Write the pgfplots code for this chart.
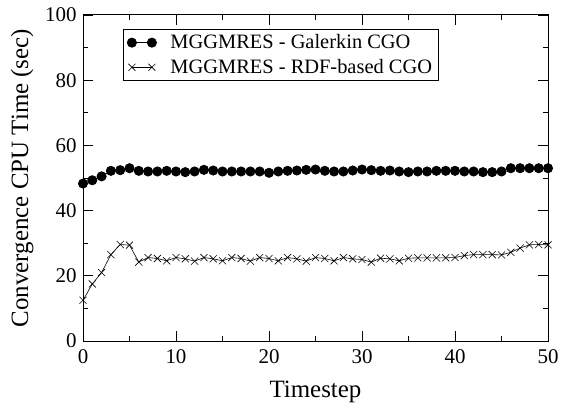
\documentclass[border=0pt]{standalone}
\usepackage{fontspec}
\setmainfont{Liberation Serif}
\usepackage{pgfplots}
\pgfplotsset{compat=1.18}
\begin{document}
\begin{tikzpicture}
\useasboundingbox (-83bp,-67bp) rectangle (478bp,341bp);
\begin{axis}[
  at={(0,0)}, anchor=south west,
  scale only axis,
  width=465bp, height=326bp,
  xmin=0, xmax=50, ymin=0, ymax=100,
  xtick={0,10,...,50}, minor xtick={5,15,...,45},
  ytick={0,20,...,100}, minor ytick={10,30,...,90},
  tick align=inside,
  major tick length=10bp, minor tick length=5bp,
  tick style={black, line width=0.8pt},
  axis line style={line width=1pt},
  /pgf/number format/assume math mode=true,
  ticklabel style={font=\fontsize{21}{25}\selectfont},
  xticklabel style={yshift=-5bp},
  yticklabel style={xshift=-3bp},
  xlabel={Timestep},
  ylabel={Convergence CPU Time (sec)},
  xlabel style={font=\fontsize{25}{30}\selectfont, at={(axis description cs:0.5,-0.172)}, anchor=base},
  ylabel style={font=\fontsize{25}{30}\selectfont, at={(axis description cs:-0.131,0.5)}, anchor=center},
  legend style={at={(0.086,0.957)}, anchor=north west, draw=black, line width=0.6pt,
    font=\fontsize{20.5}{25}\selectfont, inner xsep=4bp, inner ysep=3.5bp, row sep=5bp, column sep=12bp,
    cells={anchor=west}},
  legend image code/.code={\draw[#1] plot coordinates {(0bp,0bp) (20bp,0bp)};},
]
\addplot[black, line width=0.8pt, mark=*, mark size=4.6bp, mark options={fill=black}] coordinates {
(0,48.3) (1,49.3) (2,50.5) (3,52.2) (4,52.4) (5,53.0) (6,52.2) (7,52.0) (8,52.0) (9,52.2)
(10,52.0) (11,51.8) (12,52.0) (13,52.5) (14,52.3) (15,52.0) (16,52.0) (17,52.0) (18,52.0) (19,52.0)
(20,51.6) (21,52.0) (22,52.2) (23,52.3) (24,52.5) (25,52.6) (26,52.2) (27,52.0) (28,52.0) (29,52.3)
(30,52.6) (31,52.4) (32,52.2) (33,52.3) (34,52.0) (35,51.8) (36,52.0) (37,52.0) (38,52.2) (39,52.2)
(40,52.2) (41,52.0) (42,52.0) (43,51.8) (44,51.8) (45,52.0) (46,53.0) (47,53.0) (48,53.0) (49,53.0) (50,53.0)
};
\addlegendentry{MGGMRES - Galerkin CGO}
\addplot[black, line width=0.6pt, mark=x, mark size=5bp] coordinates {
(0,12.5) (1,17.5) (2,21.0) (3,26.5) (4,29.6) (5,29.4) (6,24.2) (7,25.6) (8,25.3) (9,24.6)
(10,25.6) (11,25.2) (12,24.5) (13,25.6) (14,25.2) (15,24.6) (16,25.6) (17,25.3) (18,24.5) (19,25.6)
(20,25.3) (21,24.6) (22,25.6) (23,25.2) (24,24.5) (25,25.6) (26,25.3) (27,24.6) (28,25.6) (29,25.2)
(30,25.0) (31,24.2) (32,25.4) (33,25.2) (34,24.6) (35,25.4) (36,25.5) (37,25.5) (38,25.5) (39,25.5)
(40,25.6) (41,26.2) (42,26.5) (43,26.5) (44,26.5) (45,26.4) (46,27.2) (47,28.5) (48,29.5) (49,29.6) (50,29.5)
};
\addlegendentry{MGGMRES - RDF-based CGO}
\end{axis}
\end{tikzpicture}
\end{document}
